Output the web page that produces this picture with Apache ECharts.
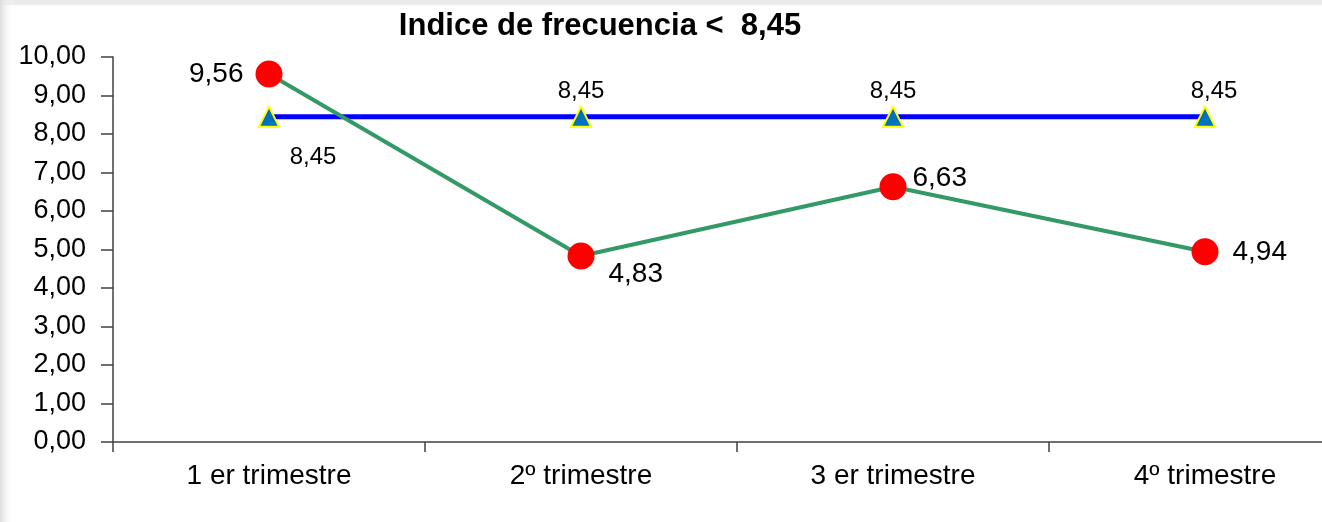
<!DOCTYPE html>
<html>
<head>
<meta charset="utf-8">
<script src="https://cdn.jsdelivr.net/npm/echarts@6/dist/echarts.min.js"></script>
<style>
  html, body { margin: 0; padding: 0; background: #fff; }
  #main { width: 1322px; height: 522px; }
</style>
</head>
<body>
<div id="main"></div>
<script>
var trimestres = ['1 er trimestre', '2º trimestre', '3 er trimestre', '4º trimestre'];
var indice = [9.56, 4.83, 6.63, 4.94];
var objetivo = [8.45, 8.45, 8.45, 8.45];
var tituloTexto = 'Indice de frecuencia <  8,45';

function coma(v) {
    return Number(v).toFixed(2).replace('.', ',');
}

// where each label sits around its point
var labelIndice = [
    { position: 'left', distance: 12 },
    { position: 'right', distance: 14, offset: [0, 18] },
    { position: 'right', distance: 6, offset: [0, -8] },
    { position: 'right', distance: 14 }
];
var labelObjetivo = [
    { position: 'bottom', distance: 14, offset: [44, 4] },
    { position: 'top', distance: 10, offset: [0, 8] },
    { position: 'top', distance: 10, offset: [0, 8] },
    { position: 'top', distance: 10, offset: [9, 8] }
];

var myChart = echarts.init(document.getElementById('main'));

var option = {
    backgroundColor: '#ffffff',
    animation: false,
    textStyle: { fontFamily: 'Liberation Sans, Arial, sans-serif' },
    graphic: [
        { type: 'rect', left: 0, top: 0, shape: { width: 1322, height: 5 }, style: { fill: '#ececec' }, z: -1 },
        {
            type: 'rect', left: 0, top: 0, shape: { width: 14, height: 522 }, z: -1,
            style: {
                fill: new echarts.graphic.LinearGradient(0, 0, 1, 0, [
                    { offset: 0, color: '#dcdcdc' },
                    { offset: 1, color: 'rgba(255,255,255,0)' }
                ])
            }
        }
    ],
    title: {
        text: tituloTexto,
        left: 595,
        top: 6,
        textAlign: 'center',
        textStyle: { fontSize: 31, fontWeight: 'bold', color: '#000', fontFamily: 'Liberation Sans, Arial, sans-serif' }
    },
    grid: { left: 113, width: 1248, top: 57, height: 385, outerBoundsMode: 'none' },
    xAxis: {
        type: 'category',
        data: trimestres,
        boundaryGap: true,
        axisLine: { lineStyle: { color: '#404040', width: 1.5 } },
        axisTick: { show: true, length: 10, inside: false, lineStyle: { color: '#404040', width: 1.5 } },
        axisLabel: { fontSize: 28, color: '#000', margin: 20 }
    },
    yAxis: {
        type: 'value',
        min: 0,
        max: 10,
        interval: 1,
        splitLine: { show: false },
        axisLine: { show: true, lineStyle: { color: '#404040', width: 1.5 } },
        axisTick: { show: true, length: 12, lineStyle: { color: '#404040', width: 1.5 } },
        axisLabel: { fontSize: 27, color: '#000', margin: 27, formatter: coma }
    },
    series: [
        {
            name: 'Objetivo',
            type: 'line',
            data: objetivo.map(function (v, i) {
                return { value: v, label: labelObjetivo[i] };
            }),
            symbol: 'triangle',
            symbolSize: 20,
            lineStyle: { color: '#0000ff', width: 5 },
            itemStyle: { color: '#0070c0', borderColor: '#ffff00', borderWidth: 2 },
            label: {
                show: true,
                fontSize: 24,
                color: '#000',
                formatter: function (p) { return coma(p.value); }
            },
            z: 2
        },
        {
            name: 'Indice',
            type: 'line',
            data: indice.map(function (v, i) {
                return { value: v, label: labelIndice[i] };
            }),
            symbol: 'circle',
            symbolSize: 27,
            lineStyle: { color: '#339966', width: 4 },
            itemStyle: { color: '#ff0000' },
            label: {
                show: true,
                fontSize: 28,
                color: '#000',
                formatter: function (p) { return coma(p.value); }
            },
            z: 3
        }
    ]
};

myChart.setOption(option);
</script>
</body>
</html>
